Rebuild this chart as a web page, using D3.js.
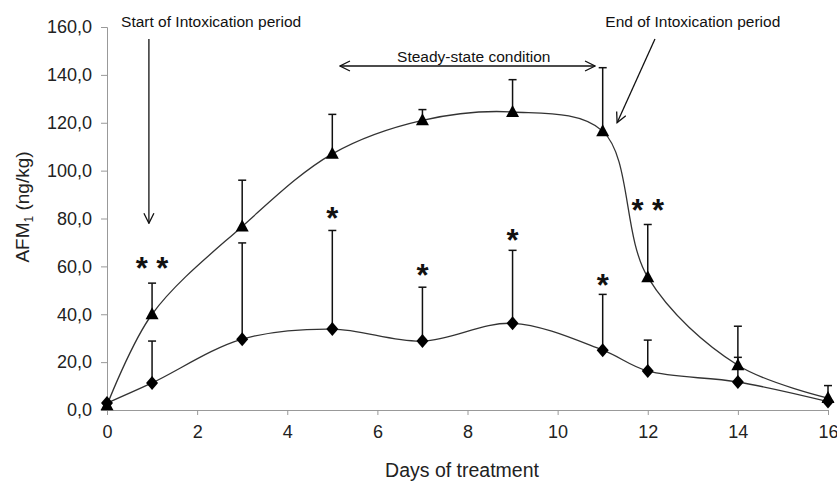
<!DOCTYPE html>
<html>
<head>
<meta charset="utf-8">
<script src="https://cdn.jsdelivr.net/npm/d3@7"></script>
<style>
  body { margin: 0; background: #fff; }
  text { font-family: "Liberation Sans", Arial, sans-serif; }
  .note { font-family: "Liberation Sans Narrow", "Liberation Sans", sans-serif; font-stretch: condensed; }
</style>
</head>
<body>
<svg class="chart"></svg>
<script>
// days sampled
var days = [0, 1, 3, 5, 7, 9, 11, 12, 14, 16];

// triangle series (upper curve) and its upper error
var triMean = [2, 40, 76.7, 107, 121, 124.5, 116.5, 55.5, 18.7, 5];
var triErr  = [0, 13, 19.3, 16.5, 4.5, 13.5, 26.5, 22, 16.3, 5.2];

// diamond series (lower curve) and its upper error
var diaMean = [2.9, 11.3, 29.6, 33.8, 28.8, 36.2, 25, 16.3, 11.7, 3.5];
var diaErr  = [0, 17.5, 40.2, 41.2, 22.5, 30.5, 23.3, 12.9, 10.3, 0];

// significance marks: day, centre value, label
var starDays = [1, 5, 7, 9, 11, 12];
var starVals = [62, 83, 59, 74, 55, 86.5];
var starText = ["* *", "*", "*", "*", "*", "* *"];

var xTicks = [0, 2, 4, 6, 8, 10, 12, 14, 16];
var yTicks = [0, 20, 40, 60, 80, 100, 120, 140, 160];

var svgWidth = 837, svgHeight = 482;
var marginLeft = 107, marginTop = 27, width = 721, height = 383;

var svg = d3.select('svg.chart')
    .attr("width", svgWidth)
    .attr("height", svgHeight);

var x = d3.scaleLinear().domain([0, 16]).range([0, width]),
    y = d3.scaleLinear().domain([0, 160]).range([height, 0]);

var g = svg.append("g")
    .attr("transform", "translate(" + marginLeft + "," + marginTop + ")");

var comma = function (d) { return d3.format(".1f")(d).replace(".", ","); };

var xAxis = g.append("g")
    .attr("transform", "translate(0," + height + ")")
    .call(d3.axisBottom(x).tickValues(xTicks).tickSize(5).tickPadding(10));

var yAxis = g.append("g")
    .call(d3.axisLeft(y).tickValues(yTicks).tickSize(6).tickPadding(9).tickFormat(comma));

[xAxis, yAxis].forEach(function (a) {
    a.select(".domain").attr("stroke", "#999");
    a.selectAll(".tick line").attr("stroke", "#999");
    a.selectAll(".tick text")
        .attr("fill", "#222")
        .style("font-family", "Liberation Sans, Arial, sans-serif")
        .style("font-size", "18px");
});

// axis titles
svg.append("text")
    .attr("x", 462)
    .attr("y", 477)
    .attr("text-anchor", "middle")
    .attr("fill", "#222")
    .style("font-size", "19.5px")
    .text("Days of treatment");

var yl = svg.append("text")
    .attr("transform", "translate(29,207)rotate(-90)")
    .attr("text-anchor", "middle")
    .attr("fill", "#222")
    .style("font-size", "19px");
yl.append("tspan").text("AFM");
yl.append("tspan").attr("dy", 4).style("font-size", "12px").text("1");
yl.append("tspan").attr("dy", -4).text(" (ng/kg)");

var line = d3.line()
    .x(function (d) { return x(d[0]); })
    .y(function (d) { return y(d[1]); })
    .curve(d3.curveCatmullRom.alpha(0.5));

var triData = days.map(function (d, i) { return [d, triMean[i], triErr[i]]; });
var diaData = days.map(function (d, i) { return [d, diaMean[i], diaErr[i]]; });

[triData, diaData].forEach(function (data) {
    g.append("path")
        .datum(data)
        .attr("d", line)
        .attr("fill", "none")
        .attr("stroke", "#333")
        .attr("stroke-width", 1.3);

    var eb = g.append("g")
        .selectAll("g")
        .data(data.filter(function (d) { return d[2] > 0; }))
        .enter()
        .append("g")
        .attr("stroke", "#111")
        .attr("stroke-width", 1.5);
    eb.append("line")
        .attr("x1", function (d) { return x(d[0]); })
        .attr("x2", function (d) { return x(d[0]); })
        .attr("y1", function (d) { return y(d[1]); })
        .attr("y2", function (d) { return y(d[1] + d[2]); });
    eb.append("line")
        .attr("x1", function (d) { return x(d[0]) - 4; })
        .attr("x2", function (d) { return x(d[0]) + 4; })
        .attr("y1", function (d) { return y(d[1] + d[2]); })
        .attr("y2", function (d) { return y(d[1] + d[2]); });
});

g.selectAll(".tri")
    .data(triData)
    .enter()
    .append("path")
    .attr("class", "tri")
    .attr("transform", function (d) { return "translate(" + x(d[0]) + "," + y(d[1]) + ")"; })
    .attr("d", "M0,-7L6.5,5L-6.5,5Z")
    .attr("fill", "#000");

g.selectAll(".dia")
    .data(diaData)
    .enter()
    .append("path")
    .attr("class", "dia")
    .attr("transform", function (d) { return "translate(" + x(d[0]) + "," + y(d[1]) + ")"; })
    .attr("d", "M0,-7L6,0L0,7L-6,0Z")
    .attr("fill", "#000");

// asterisks
g.selectAll(".star")
    .data(starDays)
    .enter()
    .append("text")
    .attr("x", function (d) { return x(d); })
    .attr("y", function (d, i) { return y(starVals[i]); })
    .attr("dy", "0.57em")
    .attr("text-anchor", "middle")
    .attr("fill", "#111")
    .style("font-size", "31px")
    .style("font-weight", "bold")
    .text(function (d, i) { return starText[i]; });

// annotations
var defs = svg.append("defs");
defs.append("marker")
    .attr("id", "head")
    .attr("viewBox", "0 0 12 12")
    .attr("refX", 11).attr("refY", 6)
    .attr("markerWidth", 12).attr("markerHeight", 12)
    .attr("markerUnits", "userSpaceOnUse")
    .attr("orient", "auto-start-reverse")
    .append("path")
    .attr("d", "M1,1L11,6L1,11")
    .attr("fill", "none")
    .attr("stroke", "#111")
    .attr("stroke-width", 1.3);

function arrow(x1, y1, x2, y2, both) {
    var l = g.append("line")
        .attr("x1", x(x1)).attr("y1", y(y1))
        .attr("x2", x(x2)).attr("y2", y(y2))
        .attr("stroke", "#111")
        .attr("stroke-width", 1.3)
        .attr("marker-end", "url(#head)");
    if (both) l.attr("marker-start", "url(#head)");
}

arrow(0.93, 155, 0.93, 78, false);
arrow(5.17, 143.7, 10.83, 143.7, true);
arrow(12.16, 155, 11.32, 120, false);

function note(xv, yv, txt) {
    g.append("text")
        .attr("class", "note")
        .attr("x", x(xv))
        .attr("y", y(yv))
        .attr("text-anchor", "middle")
        .attr("fill", "#111")
        .style("font-size", "15.5px")
        .text(txt);
}

note(2.31, 160, "Start of Intoxication period");
note(8.14, 145.4, "Steady-state condition");
note(13.0, 160, "End of Intoxication period");
</script>
</body>
</html>
